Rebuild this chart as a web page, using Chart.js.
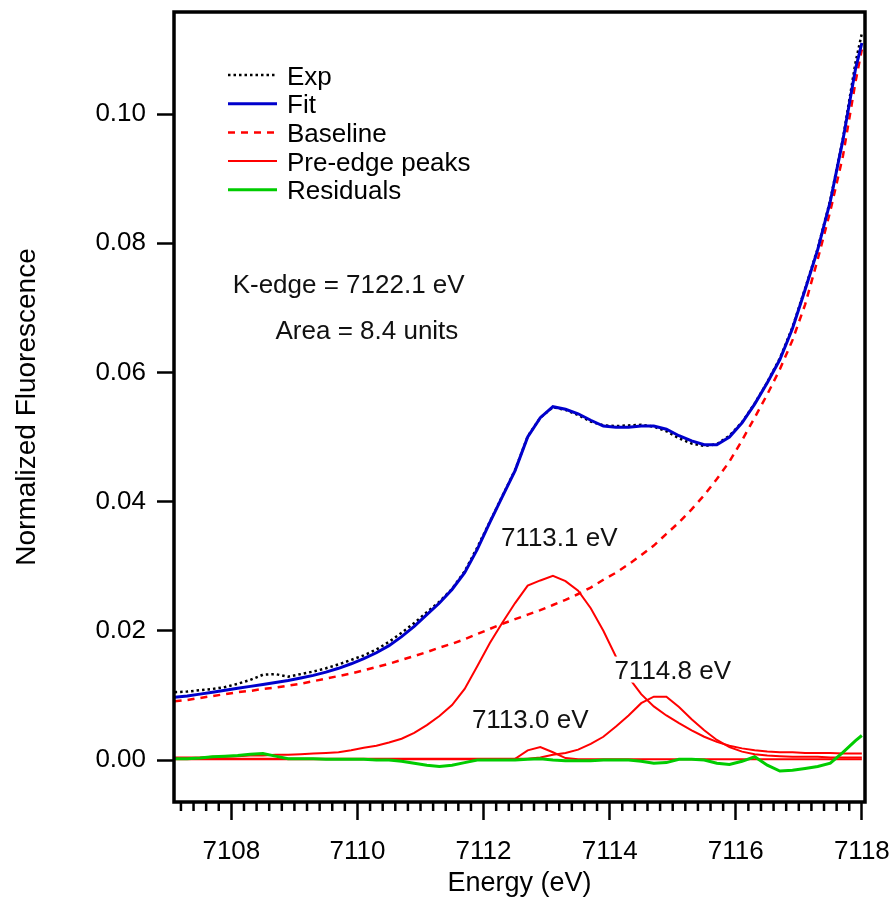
<!DOCTYPE html>
<html>
<head>
<meta charset="utf-8">
<script src="https://cdn.jsdelivr.net/npm/chart.js@4.4.1/dist/chart.umd.min.js"></script>
<style>
    html, body { margin: 0; padding: 0; background: #fff; }
</style>
</head>
<body>
<canvas id="myChart" width="892" height="907"></canvas>
<script>
// energy grid (eV)
const energy = [7107.1, 7107.3, 7107.5, 7107.7, 7107.9, 7108.1, 7108.3, 7108.5, 7108.7, 7108.9,
    7109.1, 7109.3, 7109.5, 7109.7, 7109.9, 7110.1, 7110.3, 7110.5, 7110.7, 7110.9,
    7111.1, 7111.3, 7111.5, 7111.7, 7111.9, 7112.1, 7112.3, 7112.5, 7112.7, 7112.9,
    7113.1, 7113.3, 7113.5, 7113.7, 7113.9, 7114.1, 7114.3, 7114.5, 7114.7, 7114.9,
    7115.1, 7115.3, 7115.5, 7115.7, 7115.9, 7116.1, 7116.3, 7116.5, 7116.7, 7116.9,
    7117.1, 7117.3, 7117.5, 7117.7, 7117.9, 7118.0];

const expData = [0.0105, 0.0106, 0.0108, 0.0110, 0.0113, 0.0118, 0.0124, 0.0132, 0.0133, 0.0129,
    0.0133, 0.0137, 0.0142, 0.0148, 0.0155, 0.0162, 0.0171, 0.0183, 0.0197, 0.0212,
    0.0229, 0.0245, 0.0265, 0.0292, 0.0329, 0.0369, 0.0409, 0.0449, 0.0501, 0.0530,
    0.0546, 0.0542, 0.0534, 0.0524, 0.0518, 0.0517, 0.0518, 0.0519, 0.0516, 0.0509,
    0.0498, 0.0490, 0.0486, 0.0489, 0.0502, 0.0523, 0.0552, 0.0585, 0.0622, 0.0670,
    0.0730, 0.0792, 0.0867, 0.0962, 0.1080, 0.1125];

const fitData = [0.0097, 0.0099, 0.0102, 0.0105, 0.0108, 0.0111, 0.0114, 0.0117, 0.0120, 0.0123,
    0.0127, 0.0131, 0.0136, 0.0142, 0.0149, 0.0157, 0.0166, 0.0177, 0.0191, 0.0207,
    0.0225, 0.0243, 0.0264, 0.0290, 0.0326, 0.0368, 0.0408, 0.0448, 0.0500, 0.0530,
    0.0547, 0.0543, 0.0536, 0.0526, 0.0517, 0.0515, 0.0515, 0.0517, 0.0517, 0.0512,
    0.0502, 0.0494, 0.0488, 0.0488, 0.0500, 0.0522, 0.0551, 0.0584, 0.0620, 0.0668,
    0.0728, 0.0790, 0.0865, 0.0960, 0.1070, 0.1110];

const baseData = [0.0091, 0.0093, 0.0096, 0.0099, 0.0102, 0.0105, 0.0107, 0.0110, 0.0112, 0.0115,
    0.0118, 0.0122, 0.0126, 0.0130, 0.0134, 0.0139, 0.0144, 0.0149, 0.0155, 0.0161,
    0.0167, 0.0174, 0.0180, 0.0187, 0.0195, 0.0203, 0.0211, 0.0218, 0.0225, 0.0232,
    0.0240, 0.0248, 0.0257, 0.0267, 0.0279, 0.0290, 0.0303, 0.0317, 0.0332, 0.0350,
    0.0368, 0.0388, 0.0410, 0.0435, 0.0462, 0.0495, 0.0530, 0.0566, 0.0605, 0.0650,
    0.0705, 0.0775, 0.0850, 0.0935, 0.1050, 0.1100];

// pre-edge peaks: 7113.1 eV, 7114.8 eV, 7113.0 eV
const peak1 = [0.0004, 0.0004, 0.0004, 0.0005, 0.0005, 0.0006, 0.0007, 0.0007, 0.0008, 0.0008,
    0.0009, 0.0010, 0.0011, 0.0012, 0.0015, 0.0019, 0.0022, 0.0027, 0.0033, 0.0042,
    0.0054, 0.0068, 0.0085, 0.0110, 0.0145, 0.0181, 0.0213, 0.0243, 0.0270, 0.0278,
    0.0285, 0.0277, 0.0262, 0.0235, 0.0200, 0.0160, 0.0128, 0.0102, 0.0083, 0.0069,
    0.0057, 0.0046, 0.0036, 0.0028, 0.0022, 0.0018, 0.0015, 0.0013, 0.0012, 0.0012,
    0.0011, 0.0011, 0.0011, 0.0010, 0.0010, 0.0010];

const peak2 = [0.0002, 0.0002, 0.0002, 0.0002, 0.0002, 0.0002, 0.0002, 0.0002, 0.0002, 0.0002,
    0.0002, 0.0002, 0.0002, 0.0002, 0.0002, 0.0002, 0.0002, 0.0002, 0.0002, 0.0002,
    0.0002, 0.0002, 0.0002, 0.0002, 0.0002, 0.0002, 0.0002, 0.0002, 0.0002, 0.0004,
    0.0008, 0.0011, 0.0016, 0.0025, 0.0036, 0.0052, 0.0069, 0.0088, 0.0098, 0.0098,
    0.0082, 0.0063, 0.0046, 0.0031, 0.0020, 0.0013, 0.0009, 0.0007, 0.0006, 0.0005,
    0.0005, 0.0005, 0.0004, 0.0004, 0.0004, 0.0004];

const peak3 = [0.0001, 0.0001, 0.0001, 0.0001, 0.0001, 0.0001, 0.0001, 0.0001, 0.0001, 0.0001,
    0.0001, 0.0001, 0.0001, 0.0001, 0.0001, 0.0001, 0.0001, 0.0001, 0.0001, 0.0001,
    0.0001, 0.0001, 0.0001, 0.0001, 0.0001, 0.0001, 0.0001, 0.0002, 0.0015, 0.0020,
    0.0012, 0.0003, 0.0001, 0.0001, 0.0001, 0.0001, 0.0001, 0.0001, 0.0001, 0.0001,
    0.0001, 0.0001, 0.0001, 0.0001, 0.0001, 0.0001, 0.0001, 0.0001, 0.0001, 0.0001,
    0.0001, 0.0001, 0.0001, 0.0001, 0.0001, 0.0001];

const residData = [0.0002, 0.0002, 0.0003, 0.0005, 0.0006, 0.0007, 0.0009, 0.0010, 0.0006, 0.0002,
    0.0002, 0.0002, 0.0001, 0.0001, 0.0001, 0.0001, 0.0000, 0.0000, -0.0002, -0.0005,
    -0.0008, -0.0010, -0.0008, -0.0004, 0.0000, 0.0000, 0.0000, 0.0000, 0.0001, 0.0002,
    0.0000, -0.0001, -0.0001, -0.0001, 0.0000, 0.0000, 0.0000, -0.0002, -0.0005, -0.0004,
    0.0001, 0.0001, 0.0000, -0.0005, -0.0007, -0.0002, 0.0005, -0.0008, -0.0017, -0.0016,
    -0.0013, -0.0010, -0.0005, 0.0012, 0.0030, 0.0038];

const xTicks = [7108, 7110, 7112, 7114, 7116, 7118];
const yTicks = [0.00, 0.02, 0.04, 0.06, 0.08, 0.10];
const legendLabels = ['Exp', 'Fit', 'Baseline', 'Pre-edge peaks', 'Residuals'];

// text notes placed in data coordinates
const notes = [
    { text: 'K-edge = 7122.1 eV', e: 7108.02, v: 0.0737, align: 'left' },
    { text: 'Area = 8.4 units', e: 7108.70, v: 0.0666, align: 'left' },
    { text: '7113.1 eV', e: 7113.20, v: 0.0345, align: 'center' },
    { text: '7114.8 eV', e: 7115.00, v: 0.0140, align: 'center', bg: true },
    { text: '7113.0 eV', e: 7112.74, v: 0.0064, align: 'center' },
];

const FONT = '"Liberation Sans", Arial, sans-serif';

function pts(values) {
    return energy.map(function (e, i) {
        return { x: e, y: values[i] };
    });
}

const RED = '#ff0000';

let datasets = [
    { label: 'Exp', data: pts(expData), borderColor: '#000000', borderWidth: 2.5, borderDash: [2.5, 3], order: 2 },
    { label: 'Fit', data: pts(fitData), borderColor: '#0000cc', borderWidth: 3, order: 1 },
    { label: 'Baseline', data: pts(baseData), borderColor: RED, borderWidth: 2.5, borderDash: [7, 6], order: 3 },
    { label: 'Pre-edge peaks', data: pts(peak1), borderColor: RED, borderWidth: 2, order: 5 },
    { label: 'Residuals', data: pts(residData), borderColor: '#00cc00', borderWidth: 3, order: 4 },
    { label: 'peak2', data: pts(peak2), borderColor: RED, borderWidth: 2, order: 5 },
    { label: 'peak3', data: pts(peak3), borderColor: RED, borderWidth: 2, order: 5 },
];

// frame, minor ticks, legend and notes
const extras = {
    id: 'extras',
    afterDraw(chart) {
        const ctx = chart.ctx;
        const a = chart.chartArea;
        const x = chart.scales.x;
        const y = chart.scales.y;
        ctx.save();

        // minor ticks every 0.2 eV
        ctx.strokeStyle = '#000';
        ctx.lineWidth = 2.5;
        for (let t = 71072; t <= 71180; t += 2) {
            if (t % 20 === 0) continue;
            const px = x.getPixelForValue(t / 10);
            if (px < a.left || px > a.right) continue;
            ctx.beginPath();
            ctx.moveTo(px, a.bottom);
            ctx.lineTo(px, a.bottom + 9);
            ctx.stroke();
        }

        // box
        ctx.lineWidth = 3.5;
        ctx.strokeRect(a.left, a.top, a.right - a.left, a.bottom - a.top);

        // legend
        ctx.font = '26px ' + FONT;
        ctx.textAlign = 'left';
        ctx.textBaseline = 'alphabetic';
        legendLabels.forEach(function (lab, i) {
            const ds = datasets[i];
            const ly = 75 + i * 28.7;
            ctx.strokeStyle = ds.borderColor;
            ctx.lineWidth = ds.borderWidth;
            ctx.setLineDash(ds.borderDash || []);
            ctx.beginPath();
            ctx.moveTo(228, ly);
            ctx.lineTo(277, ly);
            ctx.stroke();
            ctx.setLineDash([]);
            ctx.fillStyle = '#000';
            ctx.fillText(lab, 287, ly + 9.5);
        });

        // notes
        notes.forEach(function (n) {
            const px = x.getPixelForValue(n.e);
            const py = y.getPixelForValue(n.v);
            ctx.textAlign = n.align;
            const w = ctx.measureText(n.text).width;
            if (n.bg) {
                ctx.fillStyle = '#fff';
                const left = n.align === 'center' ? px - w / 2 : px;
                ctx.fillRect(left - 3, py - 13, w + 6, 26);
            }
            ctx.fillStyle = '#111';
            ctx.fillText(n.text, px, py + 9);
        });

        ctx.restore();
    },
};

let ctx = document.getElementById('myChart').getContext('2d');
window.myChart = new Chart(ctx, {
    type: 'line',
    data: { datasets: datasets },
    options: {
        responsive: false,
        animation: false,
        devicePixelRatio: 1,
        layout: { padding: { left: 0, top: 12, right: 27, bottom: 0 } },
        elements: { point: { radius: 0 }, line: { tension: 0 } },
        plugins: { legend: { display: false }, tooltip: { enabled: false } },
        scales: {
            x: {
                type: 'linear',
                min: 7107.09,
                max: 7118.05,
                afterBuildTicks: function (s) {
                    s.ticks = xTicks.map(function (v) { return { value: v }; });
                },
                afterFit: function (s) {
                    s.height = 105;
                    s.paddingLeft = 0;
                    s.paddingRight = 0;
                },
                border: { display: false },
                grid: { drawOnChartArea: false, tickLength: 18, tickWidth: 2.5, tickColor: '#000' },
                ticks: {
                    color: '#000',
                    font: { family: FONT, size: 26 },
                    padding: 16,
                    maxRotation: 0,
                    autoSkip: false,
                    callback: function (v) { return String(v); },
                },
                title: {
                    display: true,
                    text: 'Energy (eV)',
                    color: '#000',
                    font: { family: FONT, size: 27 },
                    padding: { top: 0, bottom: 7 },
                },
            },
            y: {
                type: 'linear',
                min: -0.0065,
                max: 0.1158,
                afterBuildTicks: function (s) {
                    s.ticks = yTicks.map(function (v) { return { value: v }; });
                },
                afterFit: function (s) {
                    s.width = 174;
                    s.paddingTop = 0;
                    s.paddingBottom = 0;
                },
                border: { display: false },
                grid: { drawOnChartArea: false, tickLength: 17, tickWidth: 2.5, tickColor: '#000' },
                ticks: {
                    color: '#000',
                    font: { family: FONT, size: 26 },
                    padding: 11,
                    autoSkip: false,
                    callback: function (v) { return v.toFixed(2); },
                },
                title: {
                    display: true,
                    text: 'Normalized Fluorescence',
                    color: '#000',
                    font: { family: FONT, size: 28 },
                    padding: { top: 10, bottom: 0 },
                },
            },
        },
    },
    plugins: [extras],
});
</script>
</body>
</html>
